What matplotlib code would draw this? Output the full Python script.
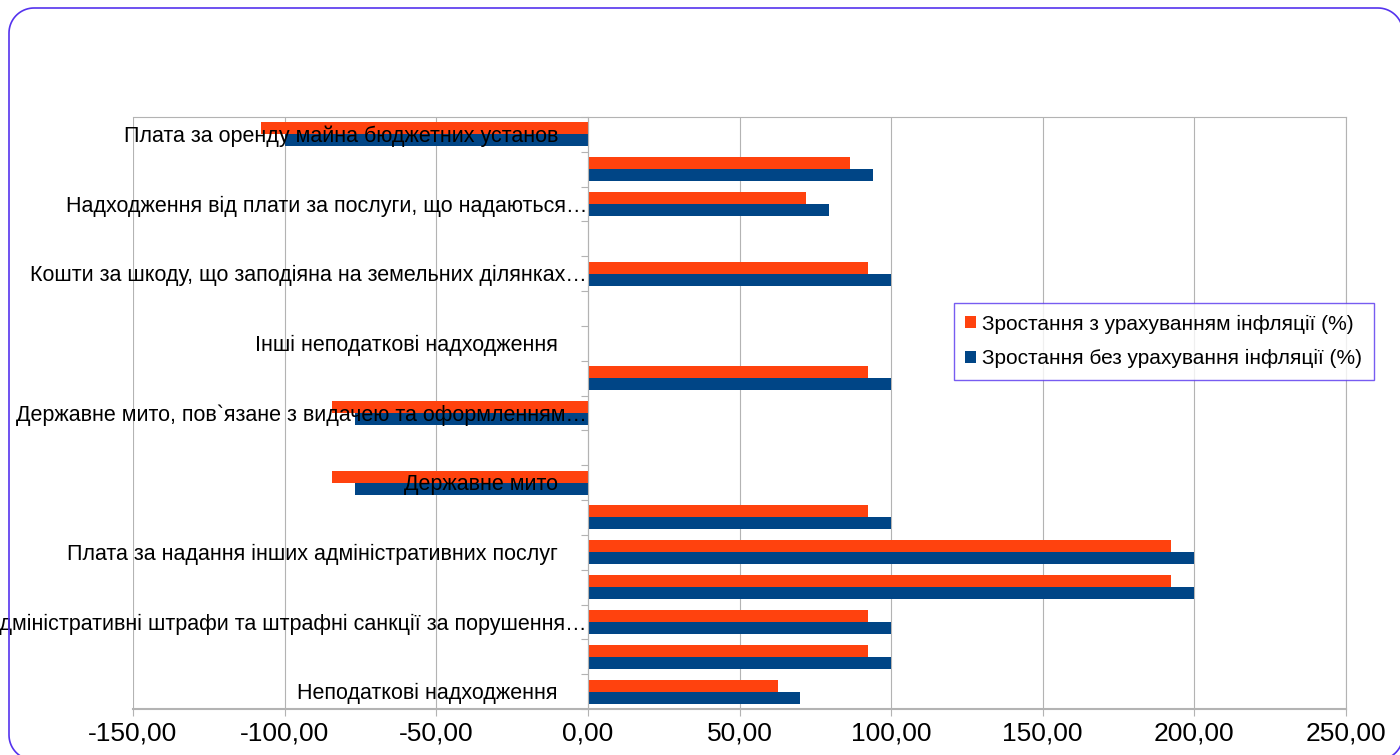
import numpy as np
import matplotlib
matplotlib.use("Agg")
import matplotlib.pyplot as plt
from matplotlib.patches import Patch
from matplotlib.lines import Line2D
from matplotlib.transforms import IdentityTransform, ScaledTranslation

plt.rcParams['font.family'] = ['Liberation Sans', 'DejaVu Sans']

# categories from bottom to top (only every other label is shown in the original)
labels = [
    'Неподаткові надходження',
    '',
    'Адміністративні штрафи та штрафні санкції за порушення…',
    '',
    'Плата за надання інших адміністративних послуг',
    '',
    'Державне мито',
    '',
    'Державне мито, пов`язане з видачею та оформленням…',
    '',
    'Інші неподаткові надходження',
    '',
    'Кошти за шкоду, що заподіяна на земельних ділянках…',
    '',
    'Надходження від плати за послуги, що надаються…',
    '',
    'Плата за оренду майна бюджетних установ',
]
with_infl = [62.7, 92.3, 92.3, 192.3, 192.3, 92.3, -84.4, np.nan, -84.4, 92.3,
             np.nan, np.nan, 92.3, np.nan, 72.0, 86.4, -107.7]
no_infl = [70.0, 100.0, 100.0, 200.0, 200.0, 100.0, -76.7, np.nan, -76.7, 100.0,
           np.nan, np.nan, 100.0, np.nan, 79.6, 94.0, -100.0]
series_names = ['Зростання з урахуванням інфляції (%)',
                'Зростання без урахування інфляції (%)']
xticks = [-150, -100, -50, 0, 50, 100, 150, 200, 250]

RED = '#ff420e'
BLUE = '#004586'
GRID = '#b3b3b3'
FRAME = '#5533ee'

W, H = 1400, 755
fig = plt.figure(figsize=(W / 100, H / 100), dpi=100)
ax = fig.add_axes([133 / W, 1 - 709 / H, (1346 - 133) / W, (709 - 117) / H])

y = np.arange(len(labels))
bh = 0.345
ax.barh(y + bh / 2, with_infl, height=bh, color=RED, zorder=3)
ax.barh(y - bh / 2, no_infl, height=bh, color=BLUE, zorder=3)

ax.set_xlim(-150, 250)
ax.set_ylim(-0.5, len(labels) - 0.5)
ax.set_xticks(xticks)
ax.set_xticklabels([f'{v:.2f}'.replace('.', ',') for v in xticks], fontsize=19)
ax.tick_params(axis='x', length=5, width=0.8, color=GRID, pad=4)
ax.xaxis.grid(True, color=GRID, linewidth=0.8, zorder=0)

# vertical axis sits at zero, ticks between categories
ax.spines['left'].set_position(('data', 0))
ax.set_yticks(np.arange(len(labels) + 1) - 0.5)
ax.set_yticklabels([])
ax.tick_params(axis='y', length=5, width=0.8, color=GRID)
for s in ['left', 'top', 'right']:
    ax.spines[s].set_color(GRID)
    ax.spines[s].set_linewidth(0.8)
ax.spines['bottom'].set_color(GRID)
ax.spines['bottom'].set_linewidth(1.5)
ax.spines['left'].set_zorder(4)

for yi, lab in zip(y, labels):
    if not lab:
        continue
    dx = -1 if lab.endswith('…') else -30
    tr = ax.transData + ScaledTranslation(dx / 100, -2 / 100, fig.dpi_scale_trans)
    ax.text(0, yi, lab, transform=tr, ha='right', va='center',
            fontsize=15.5, color='black', zorder=5)

handles = [Patch(facecolor=RED), Patch(facecolor=BLUE)]
leg = fig.legend(handles, series_names, loc='upper left',
                 bbox_to_anchor=(954 / W, 1 - 303 / H), fontsize=15,
                 frameon=True, fancybox=False, borderaxespad=0,
                 handlelength=0.5, handleheight=0.5, handletextpad=0.3,
                 borderpad=0.55, labelspacing=0.75)
leg.get_frame().set_edgecolor(FRAME)
leg.get_frame().set_linewidth(1.0)

# rounded outer frame as a polyline in pixels (origin bottom-left)
x0, x1 = 9, 1403
y0, y1 = -5, H - 8
r = 25
t = np.linspace(0, np.pi / 2, 20)
px, py = [], []
for cx, cy, a0 in [(x1 - r, y1 - r, 0), (x0 + r, y1 - r, np.pi / 2),
                   (x0 + r, y0 + r, np.pi), (x1 - r, y0 + r, 1.5 * np.pi)]:
    px.extend(cx + r * np.cos(a0 + t))
    py.extend(cy + r * np.sin(a0 + t))
px.append(px[0])
py.append(py[0])
fig.add_artist(Line2D(px, py, transform=IdentityTransform(), color=FRAME,
                      linewidth=1.2, solid_joinstyle='round'))

fig.savefig('out.png', dpi=100)
